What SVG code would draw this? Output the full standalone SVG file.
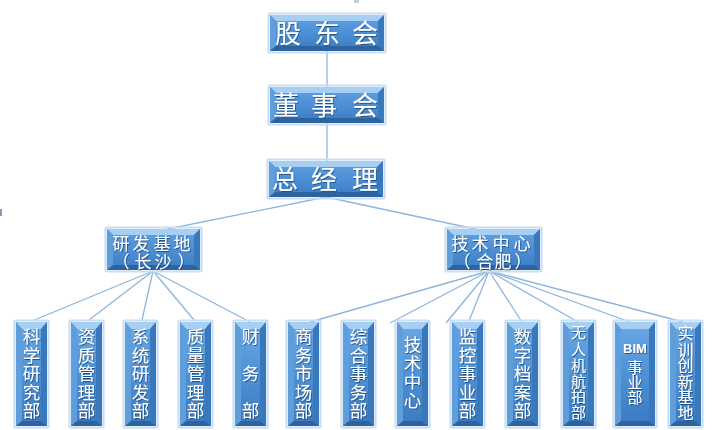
<svg xmlns="http://www.w3.org/2000/svg" xmlns:xlink="http://www.w3.org/1999/xlink" width="716" height="430" viewBox="0 0 716 430">
<style>
.t{font-family:"Noto Sans CJK SC","Noto Sans",sans-serif;fill:#ffffff;filter:url(#ts);text-anchor:middle}
.big{font-size:26px}
.mid{font-size:17px}
.sm{font-size:17.5px}
.xs{font-size:15px}
.lat{font-family:"Liberation Sans","DejaVu Sans",sans-serif;font-size:13px;font-weight:bold}
.ln{stroke:#8db5df;stroke-width:1.3;fill:none}
.glow{fill:none;stroke:#c9def3;stroke-width:2.2}
.bt{fill:#a7cef3}
.bl{fill:#5f9edb}
.br{fill:#3a78bc}
.bb{fill:#2d649f}
</style>
<defs>
<linearGradient id="face" x1="0" y1="0" x2="0" y2="1">
<stop offset="0" stop-color="#5b9ce0"/>
<stop offset="1" stop-color="#3f81c8"/>
</linearGradient>
<linearGradient id="faceT" x1="0" y1="0" x2="0" y2="1">
<stop offset="0" stop-color="#66a6e4"/>
<stop offset="0.5" stop-color="#4e91d6"/>
<stop offset="1" stop-color="#3b7cc3"/>
</linearGradient>
<filter id="ts" x="-20%" y="-20%" width="140%" height="140%">
<feDropShadow dx="0.8" dy="1" stdDeviation="0.6" flood-color="#163f6c" flood-opacity="0.75"/>
</filter>
<g id="boxTop">
<rect class="glow" x="-1.5" y="-1.5" width="117" height="39" rx="1"/>
<rect x="0" y="0" width="114" height="36" fill="url(#face)"/>
<polygon class="bt" points="0,0 114,0 108,6 6,6"/>
<polygon class="bl" points="0,0 6,6 6,31 0,36"/>
<polygon class="br" points="114,0 108,6 108,31 114,36"/>
<polygon class="bb" points="0,36 6,31 108,31 114,36"/>
<rect x="6" y="6" width="102" height="25" fill="url(#face)"/>
</g>
<g id="boxMid">
<rect class="glow" x="-1.5" y="-1.5" width="96" height="44" rx="1"/>
<rect x="0" y="0" width="93" height="41" fill="url(#face)"/>
<polygon class="bt" points="0,0 93,0 87,6 6,6"/>
<polygon class="bl" points="0,0 6,6 6,36 0,41"/>
<polygon class="br" points="93,0 87,6 87,36 93,41"/>
<polygon class="bb" points="0,41 6,36 87,36 93,41"/>
<rect x="6" y="6" width="81" height="30" fill="url(#face)"/>
</g>
<g id="boxTall">
<rect class="glow" x="-1.5" y="-1.5" width="34" height="107" rx="1"/>
<rect x="0" y="0" width="31" height="104" fill="url(#faceT)"/>
<polygon class="bt" points="0,0 31,0 25,7 6,7"/>
<polygon class="bl" points="0,0 6,7 6,99 0,104"/>
<polygon class="br" points="31,0 25,7 25,99 31,104"/>
<polygon class="bb" points="0,104 6,99 25,99 31,104"/>
<rect x="6" y="7" width="19" height="92" fill="url(#faceT)"/>
</g>
<g id="boxWide">
<rect class="glow" x="-1.5" y="-1.5" width="43" height="107" rx="1"/>
<rect x="0" y="0" width="40" height="104" fill="url(#faceT)"/>
<polygon class="bt" points="0,0 40,0 34,7 6,7"/>
<polygon class="bl" points="0,0 6,7 6,99 0,104"/>
<polygon class="br" points="40,0 34,7 34,99 40,104"/>
<polygon class="bb" points="0,104 6,99 34,99 40,104"/>
<rect x="6" y="7" width="28" height="92" fill="url(#faceT)"/>
</g>
</defs>
<rect width="716" height="430" fill="#ffffff"/>
<rect x="354" y="0" width="5" height="3" fill="#c3cfdc"/>
<rect x="0" y="209" width="2" height="7" fill="#7f9cbc"/>

<g id="connectors">
<line class="ln" x1="327" y1="51" x2="327" y2="87"/>
<line class="ln" x1="327" y1="123" x2="327" y2="161"/>
<line class="ln" x1="326" y1="197" x2="153" y2="232"/>
<line class="ln" x1="326" y1="197" x2="489" y2="232"/>
<line class="ln" x1="153" y1="271" x2="32" y2="321"/>
<line class="ln" x1="153" y1="271" x2="89" y2="320"/>
<line class="ln" x1="153" y1="271" x2="142" y2="320"/>
<line class="ln" x1="153" y1="271" x2="194" y2="320"/>
<line class="ln" x1="153" y1="271" x2="250" y2="322"/>
<line class="ln" x1="489" y1="271" x2="310" y2="322"/>
<line class="ln" x1="489" y1="271" x2="390" y2="323"/>
<line class="ln" x1="489" y1="271" x2="446" y2="323"/>
<line class="ln" x1="489" y1="271" x2="469" y2="321"/>
<line class="ln" x1="489" y1="271" x2="522" y2="322"/>
<line class="ln" x1="489" y1="271" x2="578" y2="322"/>
<line class="ln" x1="489" y1="271" x2="630" y2="322"/>
<line class="ln" x1="489" y1="271" x2="683" y2="322"/>
</g>

<g id="gudonghui">
<use xlink:href="#boxTop" x="270" y="15"/>
<text class="t big" x="288 327 365" y="43">股东会</text>
</g>
<g id="dongshihui">
<use xlink:href="#boxTop" x="270" y="87"/>
<text class="t big" x="286 324 365" y="115">董事会</text>
</g>
<g id="zongjingli">
<use xlink:href="#boxTop" x="269" y="161"/>
<text class="t big" x="285 324 365" y="189">总经理</text>
</g>

<g id="yanfajidi">
<use xlink:href="#boxMid" x="107" y="229"/>
<text class="t mid" x="121 141 162 182 121 143 163 186" y="250 250 250 250 268 268 268 268">研发基地（长沙）</text>
</g>
<g id="jishuzhongxin-hf">
<use xlink:href="#boxMid" x="447" y="229"/>
<text class="t mid" x="460 480 501 522 462 485 503 523" y="250 250 250 250 268 268 268 268">技术中心（合肥）</text>
</g>

<g id="kexueyanjiubu">
<use xlink:href="#boxTall" x="16" y="322"/>
<text class="t sm" x="31.5 31.5 31.5 31.5 31.5" y="343 361.5 380 398.5 417">科学研究部</text>
</g>
<g id="zizhiguanlibu">
<use xlink:href="#boxTall" x="71" y="322"/>
<text class="t sm" x="86.5 86.5 86.5 86.5 86.5" y="343 361.5 380 398.5 417">资质管理部</text>
</g>
<g id="xitongyanfabu">
<use xlink:href="#boxTall" x="125" y="322"/>
<text class="t sm" x="140.5 140.5 140.5 140.5 140.5" y="343 361.5 380 398.5 417">系统研发部</text>
</g>
<g id="zhiliangguanlibu">
<use xlink:href="#boxTall" x="180" y="322"/>
<text class="t sm" x="195.5 195.5 195.5 195.5 195.5" y="343 361.5 380 398.5 417">质量管理部</text>
</g>
<g id="caiwubu">
<use xlink:href="#boxTall" x="235" y="322"/>
<text class="t sm" x="250.5 250.5 250.5" y="343 380 417">财务部</text>
</g>

<g id="shangwushichangbu">
<use xlink:href="#boxTall" x="288" y="322"/>
<text class="t sm" x="303.5 303.5 303.5 303.5 303.5" y="343 361.5 380 398.5 417">商务市场部</text>
</g>
<g id="zonghe">
<use xlink:href="#boxTall" x="343" y="322"/>
<text class="t sm" x="358.5 358.5 358.5 358.5 358.5" y="343 361.5 380 398.5 417">综合事务部</text>
</g>
<g id="jishuzhongxin">
<use xlink:href="#boxTall" x="397" y="322"/>
<text class="t sm" x="412.5 412.5 412.5 412.5" y="351 369.5 388 406.5">技术中心</text>
</g>
<g id="jiankong">
<use xlink:href="#boxTall" x="452" y="322"/>
<text class="t sm" x="467.5 467.5 467.5 467.5 467.5" y="343 361.5 380 398.5 417">监控事业部</text>
</g>
<g id="shuzidangan">
<use xlink:href="#boxTall" x="507" y="322"/>
<text class="t sm" x="522.5 522.5 522.5 522.5 522.5" y="343 361.5 380 398.5 417">数字档案部</text>
</g>
<g id="wurenji">
<use xlink:href="#boxTall" x="563" y="322"/>
<text class="t xs" x="578.5 578.5 578.5 578.5 578.5 578.5" y="338 354.5 370.5 386.5 402 418">无人机航拍部</text>
</g>
<g id="bim">
<use xlink:href="#boxWide" x="615" y="322"/>
<text class="t lat" x="635" y="353">BIM</text>
<text class="t xs" x="635 635 635" y="373 388 403">事业部</text>
</g>
<g id="shixun">
<use xlink:href="#boxTall" x="670" y="322"/>
<text class="t xs" style="font-size:16px" x="685.5 685.5 685.5 685.5 685.5 685.5" y="339 355.5 371 388 403 419">实训创新基地</text>
</g>
</svg>
